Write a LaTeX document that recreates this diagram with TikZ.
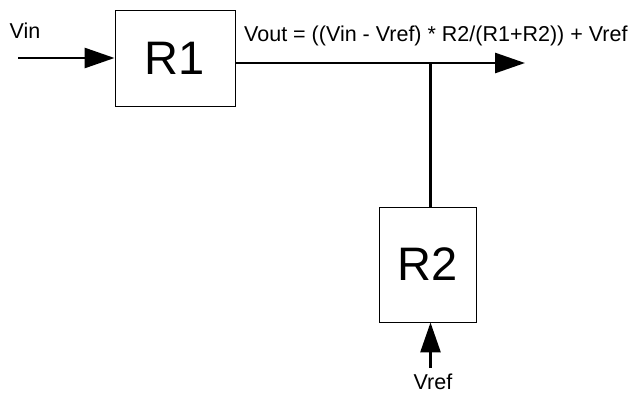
\documentclass[tikz,border=0pt]{standalone}
\usepackage{fontspec}
\setmainfont{Liberation Sans}
\usetikzlibrary{arrows.meta}
\begin{document}
\begin{tikzpicture}[x=1pt,y=-1pt,
  box/.style={draw,line width=0.9pt,inner sep=0pt,font=\fontsize{47}{50}\selectfont},
  wire/.style={line width=2.8pt},
  sig/.style={wire,-{Triangle[length=30pt,width=20pt]}},
  lbl/.style={font=\fontsize{21.5}{24}\selectfont,inner sep=0pt}]
\useasboundingbox (0,0) rectangle (634,394);
\node[box,minimum width=120pt,minimum height=96pt] (R1) at (175,58) {R1};
\node[box,minimum width=97pt,minimum height=115pt] (R2) at (427.5,264.5) {R2};
\coordinate (in) at (18,58);
\coordinate (out) at (525,63);
\coordinate (j) at (430.5,63);
\coordinate (vr) at (430.5,368);
\draw[sig] (in) -- (R1.west);
\draw[sig] (R1.east |- out) -- (out);
\draw[wire] (j) -- (j |- R2.north);
\draw[sig] (vr) -- (vr |- R2.south);
\node[lbl] (vin) at (25,31) {Vin};
\node[lbl,anchor=west] (vout) at (244,36) {Vout = ((Vin - Vref) * R2/(R1+R2)) + Vref};
\node[lbl] (vref) at (433,382) {Vref};
\end{tikzpicture}
\end{document}
